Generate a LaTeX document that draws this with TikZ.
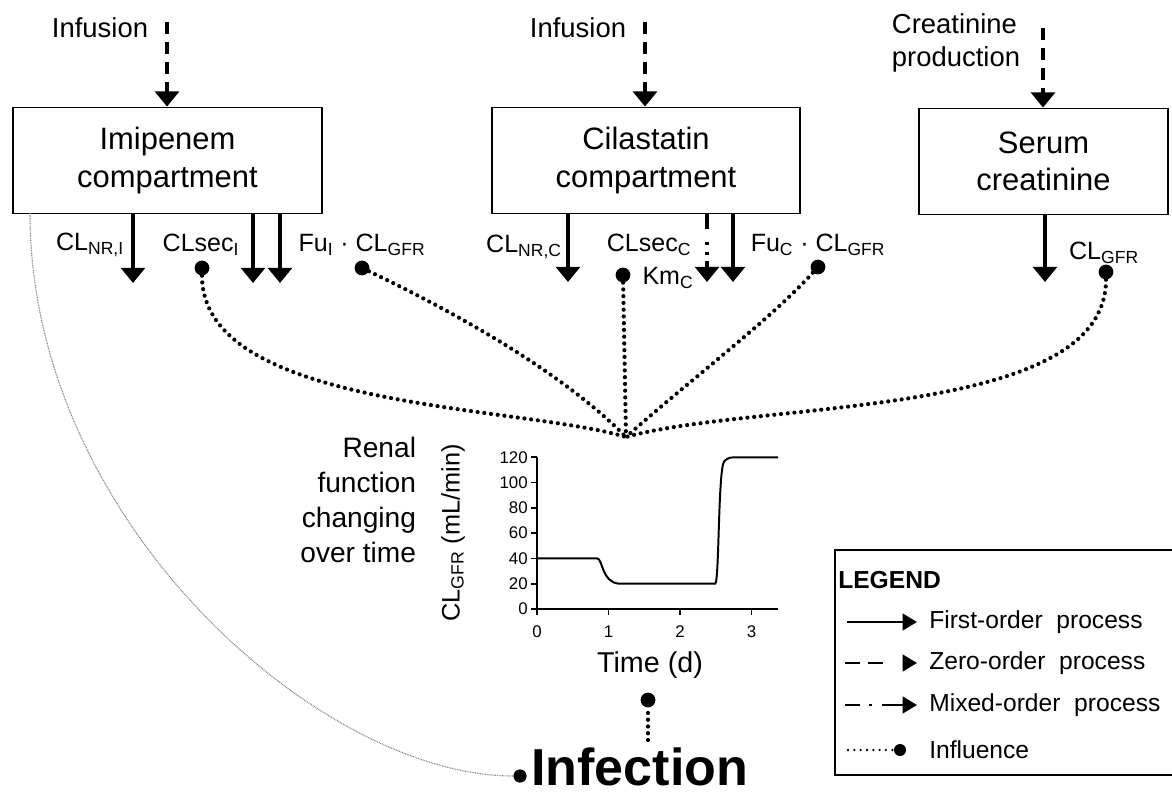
\documentclass[tikz,border=0pt]{standalone}
\usepackage{fontspec}
\setmainfont{Liberation Sans}
\usetikzlibrary{arrows.meta, calc}

\tikzset{
    compbox/.style={draw, line width=1.3pt, minimum height=2.65cm, align=center,
        font=\fontsize{22}{26.5}\selectfont},
    inlab/.style={font=\fontsize{19.5}{24}\selectfont},
    clab/.style={font=\fontsize{17.8}{21}\selectfont, inner sep=0pt},
    firstorder/.style={-{Triangle[width=0.6cm, length=0.38cm]}, line width=2.3pt},
    zeroorder/.style={firstorder, dash pattern=on 0.3cm off 0.2cm},
    mixedorder/.style={firstorder, dash pattern=on 0.375cm off 0.32cm on 0.07cm off 0.17cm on 0.07cm off 0.15cm on 1cm off 0.1cm},
    infl/.style={line width=3pt, dash pattern=on 0pt off 4.8pt, line cap=round},
    bigdot/.style={circle, fill, inner sep=0pt, minimum size=0.37cm},
    axisln/.style={line width=1.3pt},
    ticklab/.style={font=\fontsize{12}{14}\selectfont, inner sep=0pt},
    legarrow/.style={-{Triangle[width=0.42cm, length=0.36cm]}, line width=1.4pt},
    legtext/.style={font=\fontsize{17.5}{21}\selectfont, anchor=west, inner sep=0pt}
}

\begin{document}
\begin{tikzpicture}[x=0.025cm, y=-0.025cm]
    \useasboundingbox (0,0) rectangle (1172,799);

    % compartments
    \node[compbox, minimum width=7.725cm] (imi) at (167.5,160.5) {Imipenem\\compartment};
    \node[compbox, minimum width=7.7cm] (cil) at (646,160.5) {Cilastatin\\compartment};
    \node[compbox, minimum width=6.225cm] (ser) at (1043.5,161.5) {Serum\\creatinine};

    % inputs
    \node[inlab] (infI) at (100,28) {Infusion};
    \node[inlab] (infC) at (578,28) {Infusion};
    \node[inlab, align=left] (prod) at (956,43) {Creatinine\\production};
    \coordinate (inI) at (167,22);
    \coordinate (inC) at (645,22);
    \coordinate (inS) at (1043,28);
    \draw[zeroorder] (inI) -- (inI |- imi.north);
    \draw[zeroorder] (inC) -- (inC |- cil.north);
    \draw[zeroorder] (inS) -- (inS |- ser.north);

    % outputs
    \coordinate (oI1) at (133,283);
    \coordinate (oI2) at (253,283);
    \coordinate (oI3) at (280,283);
    \coordinate (oC1) at (568,282);
    \coordinate (oC2) at (707,282);
    \coordinate (oC3) at (733,282);
    \coordinate (oS) at (1045,282);
    \draw[firstorder] (imi.south -| oI1) -- (oI1);
    \draw[firstorder] (imi.south -| oI2) -- (oI2);
    \draw[firstorder] (imi.south -| oI3) -- (oI3);
    \draw[firstorder] (cil.south -| oC1) -- (oC1);
    \draw[mixedorder] (cil.south -| oC2) -- (oC2);
    \draw[firstorder] (cil.south -| oC3) -- (oC3);
    \draw[firstorder] (ser.south -| oS) -- (oS);

    \node[clab] (lI1) at (90,245) {CL\textsubscript{NR,I}};
    \node[clab] (lI2) at (201,245) {CLsec\textsubscript{I}};
    \node[clab] (lI3) at (362,245) {Fu\textsubscript{I} · CL\textsubscript{GFR}};
    \node[clab] (lC1) at (524,247) {CL\textsubscript{NR,C}};
    \node[clab] (lC2) at (649,245) {CLsec\textsubscript{C}};
    \node[clab] (lC3) at (668,278) {Km\textsubscript{C}};
    \node[clab] (lC4) at (818,245) {Fu\textsubscript{C} · CL\textsubscript{GFR}};
    \node[clab] (lS) at (1104,253) {CL\textsubscript{GFR}};

    % influences of renal function
    \node[bigdot] (dI1) at (202,268) {};
    \node[bigdot] (dI2) at (362,268) {};
    \node[bigdot] (dC1) at (623,275) {};
    \node[bigdot] (dC2) at (818,267) {};
    \node[bigdot] (dS) at (1106,272) {};
    \coordinate (conv) at (626,437);
    \draw[infl] (dI1) .. controls (202,410) and (520,405) .. (conv);
    \draw[infl] (dI2) .. controls (450,310) and (560,370) .. (conv);
    \draw[infl] (dC1) -- (conv);
    \draw[infl] (dC2) .. controls (770,320) and (690,380) .. (conv);
    \draw[infl] (dS) .. controls (1106,420) and (760,400) .. (conv);

    % renal function plot
    \node[font=\fontsize{20}{25}\selectfont, align=right, anchor=east] (renal) at (421,500)
        {Renal\\function\\changing\\over time};
    \begin{scope}[shift={(537,609)}, x=1.7875cm, y=0.0316cm]
        \draw[axisln] (0,120) -- (0,0) -- (3.37,0);
        \foreach \v in {0,20,...,120} {
            \draw[axisln] (0,\v) -- ++(-0.15cm,0);
            \node[ticklab, anchor=east] (yt\v) at (-0.126,\v) {\v};
        }
        \foreach \t in {0,...,3} {
            \draw[axisln] (\t,0) -- ++(0,-0.15cm);
            \node[ticklab] (xt\t) at (\t,-18) {\t};
        }
        \draw[line width=1.4pt] (0,40) -- (0.84,40)
            .. controls (0.92,40) and (0.9,21) .. (1.15,20) -- (2.49,20)
            .. controls (2.55,20) and (2.53,112) .. (2.62,117)
            .. controls (2.68,120) and (2.7,120) .. (2.82,120) -- (3.37,120);
    \end{scope}
    \node[font=\fontsize{18}{21}\selectfont, rotate=90] (ylab) at (453,533) {CL\textsubscript{GFR} (mL/min)};
    \node[font=\fontsize{20.4}{24}\selectfont] (tlab) at (650,665) {Time (d)};

    % infection
    \node[font=\fontsize{37}{44}\selectfont\bfseries, anchor=west, inner sep=0pt] (inf) at (531,767) {Infection};
    \node[bigdot, minimum size=0.33cm] (idot) at (520,776) {};
    \node[bigdot] (tdot) at (648,700) {};
    \coordinate (tend) at (648,740);
    \draw[infl] (tend) -- (tdot);
    \coordinate (g0) at (30,213);
    \draw[gray, line width=0.8pt, dash pattern=on 0.6pt off 0.6pt] (g0) .. controls (30,522) and (321,776) .. (idot);

    % legend
    \node[draw, line width=1.3pt, minimum width=8.625cm, minimum height=5.625cm] (leg) at (1007.5,662.5) {};
    \node[font=\fontsize{17.5}{21}\selectfont\bfseries, anchor=west, inner sep=0pt] (legt) at (838,580) {LEGEND};
    \coordinate (l1a) at (847,622); \coordinate (l1b) at (917,622);
    \coordinate (l2a) at (845,663); \coordinate (l2b) at (917,663);
    \coordinate (l3a) at (845,705); \coordinate (l3b) at (917,705);
    \coordinate (l4a) at (848,750);
    \node[bigdot, minimum size=0.3cm] (l4b) at (900,750) {};
    \draw[legarrow] (l1a) -- (l1b);
    \draw[legarrow, dash pattern=on 0.375cm off 0.2cm on 0.375cm off 0.75cm] (l2a) -- (l2b);
    \draw[legarrow, dash pattern=on 0.375cm off 0.22cm on 0.07cm off 0.25cm on 1cm off 0.1cm] (l3a) -- (l3b);
    \draw[line width=1.8pt, dash pattern=on 0pt off 4.5pt, line cap=round] (l4a) -- (l4b);
    \node[legtext] (e1) at (929,622) {First-order\ \ process};
    \node[legtext] (e2) at (929,663) {Zero-order\ \ process};
    \node[legtext] (e3) at (929,705) {Mixed-order\ \ process};
    \node[legtext] (e4) at (929,750) {Influence};
\end{tikzpicture}
\end{document}
